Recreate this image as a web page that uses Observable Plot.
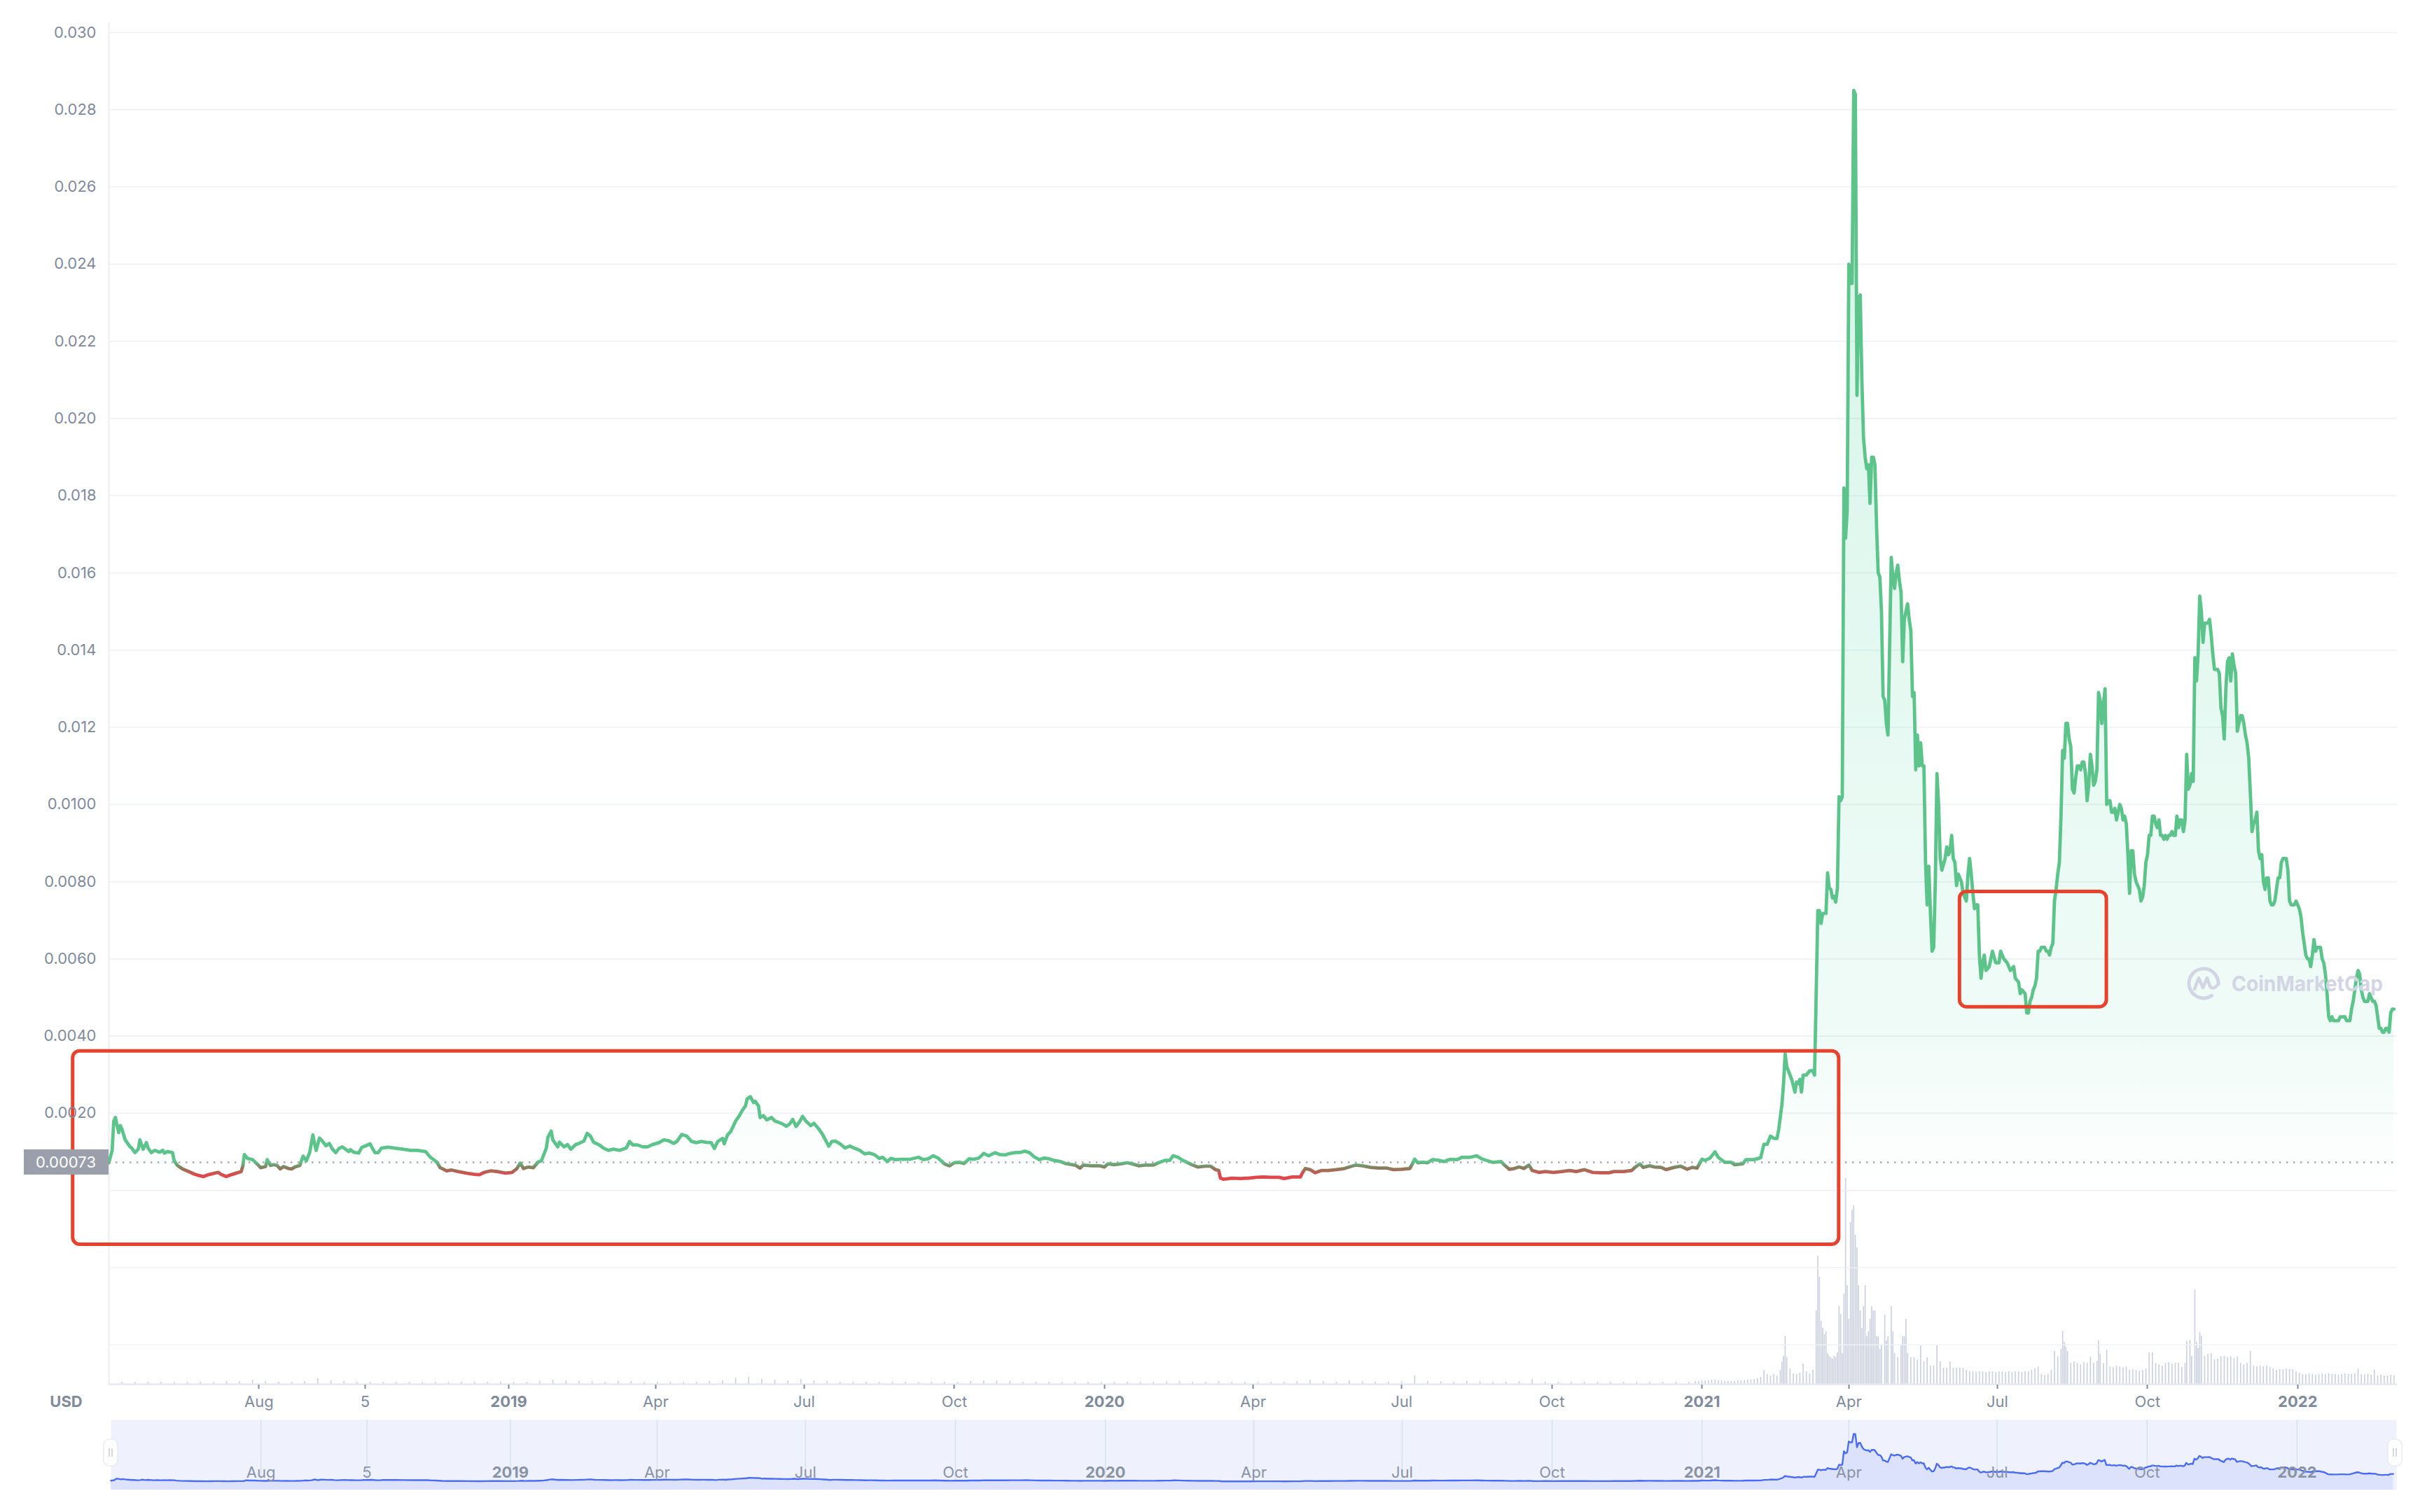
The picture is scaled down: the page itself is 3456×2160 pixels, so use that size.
<!DOCTYPE html>
<html><head><meta charset="utf-8">
<script src="https://cdn.jsdelivr.net/npm/d3@7"></script>
<script src="https://cdn.jsdelivr.net/npm/@observablehq/plot@0.6"></script>
<style>
html,body{margin:0;padding:0;background:#fff;}
body{width:3456px;height:2160px;overflow:hidden;font-family:Inter,"Noto Sans",sans-serif;}
#wrap{position:relative;width:3456px;height:2020px;}
#wrap > svg{position:absolute;left:0;top:0;}
#nav{position:relative;width:3456px;height:140px;}
</style></head><body>
<div id="wrap"></div><div id="nav"></div>
<script>
// ---------------- DATA ----------------
// day offsets from the first day shown (2018-05-01); price in USD
const startDay = "2018-05-01";
const endDay = "2022-03-03";
const refPrice = 0.00073;
const refLabel = "0.00073";

const price2018_19 = [[0,0.00072],[2,0.00104],[3,0.0018],[4,0.00189],[6,0.0015],[7,0.00168],[8,0.00159],[10,0.00131],[13,0.00113],[14,0.0011],[16,0.00098],[18,0.00107],[19,0.00131],[21,0.00107],[23,0.00124],[24,0.0011],[26,0.00098],[28,0.00104],[31,0.00099],[33,0.00104],[34,0.00097],[36,0.00101],[39,0.00098],[40,0.00077],[42,0.00065],[45,0.00056],[49,0.00049],[52,0.00043],[55,0.00039],[58,0.00036],[61,0.00041],[64,0.00044],[67,0.00047],[69,0.00041],[72,0.00036],[75,0.00041],[78,0.00045],[81,0.00049],[82,0.00062],[83,0.00093],[85,0.00083],[88,0.0008],[91,0.00068],[93,0.00059],[96,0.00062],[97,0.0008],[99,0.00065],[101,0.00067],[103,0.00065],[105,0.00056],[107,0.00062],[110,0.00057],[112,0.00056],[114,0.00061],[117,0.00065],[119,0.00089],[121,0.00077],[123,0.00098],[125,0.00144],[126,0.00122],[127,0.00104],[129,0.00136],[131,0.00127],[133,0.00116],[135,0.00122],[137,0.00107],[139,0.00098],[141,0.00109],[143,0.00113],[145,0.00107],[147,0.00101],[148,0.00106],[150,0.00099],[153,0.00097],[155,0.00112],[157,0.00115],[160,0.00121],[161,0.00113],[163,0.00098],[165,0.00098],[167,0.0011],[171,0.00112],[175,0.0011],[180,0.00107],[185,0.00104],[189,0.00104],[194,0.00101],[197,0.00086],[199,0.0008],[201,0.00073],[203,0.00059],[207,0.00051],[210,0.00053],[214,0.00049],[219,0.00045],[224,0.00042],[227,0.00041],[230,0.00047],[234,0.00051],[238,0.00049],[243,0.00045],[247,0.00047],[250,0.00057],[252,0.00071],[254,0.00057],[257,0.00061],[260,0.00059],[263,0.00074],[265,0.00077],[268,0.0011],[269,0.00138],[271,0.00154],[272,0.00131],[275,0.00113],[276,0.00125],[279,0.00113],[281,0.00119],[283,0.00107],[286,0.00119],[288,0.00122],[291,0.00128],[293,0.00148],[295,0.00141],[297,0.00125],[300,0.00119],[303,0.0011],[306,0.00104],[309,0.00107],[313,0.00104],[317,0.0011],[319,0.00127],[321,0.00118],[324,0.00118],[327,0.00113],[330,0.00113],[333,0.00119],[337,0.00124],[340,0.00131],[343,0.00129],[346,0.00122],[348,0.00127],[351,0.00145],[354,0.00141],[357,0.00127],[360,0.00124],[363,0.00127],[366,0.00125],[369,0.00124],[371,0.00109],[373,0.00127],[376,0.00135],[377,0.00121],[379,0.00144],[381,0.00153],[384,0.0018],[386,0.00192],[388,0.00207],[390,0.00219],[391,0.00237],[393,0.00243],[395,0.00228],[396,0.00231],[398,0.00219],[399,0.00189],[401,0.00194],[403,0.00183],[406,0.00189],[408,0.0018],[410,0.00177],[413,0.00172],[415,0.00166],[417,0.00172],[419,0.00184],[421,0.00166],[423,0.00177],[425,0.00192],[427,0.0018],[430,0.00168],[432,0.00174],[435,0.00159],[437,0.00147],[439,0.00131],[441,0.00115],[443,0.00127],[445,0.00128],[448,0.00121],[451,0.0011],[454,0.00115],[457,0.00109],[460,0.00104],[463,0.00095],[466,0.00097],[469,0.00093],[472,0.00083],[474,0.00086],[477,0.00075],[479,0.00083],[482,0.0008],[485,0.00081],[491,0.00081]];

const price2019_20 = [[496,0.00086],[499,0.0008],[502,0.00082],[505,0.0009],[508,0.00084],[512,0.00069],[515,0.00064],[518,0.00072],[521,0.00073],[524,0.0007],[527,0.00082],[530,0.00081],[533,0.00084],[536,0.00096],[539,0.0009],[543,0.00098],[546,0.00093],[549,0.00092],[552,0.00096],[555,0.00098],[559,0.00099],[561,0.00102],[564,0.00098],[567,0.00087],[570,0.0008],[573,0.00084],[576,0.00082],[579,0.00078],[583,0.00075],[586,0.0007],[590,0.00067],[592,0.00066],[595,0.00058],[597,0.00066],[602,0.00064],[607,0.00064],[610,0.00061],[612,0.00069],[616,0.00067],[620,0.00069],[624,0.00072],[627,0.00069],[631,0.00064],[635,0.00066],[640,0.00066],[643,0.00072],[647,0.00078],[650,0.00078],[652,0.0009],[655,0.00086],[658,0.00078],[661,0.00072],[664,0.00066],[667,0.00061],[672,0.00063],[675,0.00063],[678,0.00054],[680,0.00052],[681,0.00032],[683,0.00029],[688,0.00032],[693,0.00031],[698,0.00032],[703,0.00034],[707,0.00035],[712,0.00034],[717,0.00034],[720,0.00031],[725,0.00035],[730,0.00035],[731,0.00044],[733,0.00057],[736,0.00054],[739,0.00046],[743,0.00052],[747,0.00052],[752,0.00054],[757,0.00057],[760,0.00061],[764,0.00066],[768,0.00064],[773,0.0006],[778,0.00058],[783,0.00058],[787,0.00054],[792,0.00055],[797,0.00057],[799,0.00072],[800,0.00081],[802,0.00072],[805,0.00073],[808,0.00072],[811,0.0008],[815,0.00078],[818,0.00075],[822,0.00081],[826,0.0008],[829,0.00086],[834,0.00086],[838,0.0009],[841,0.00082],[844,0.00078],[848,0.00073],[853,0.00075],[855,0.00066],[858,0.00055],[861,0.00057],[864,0.00061],[867,0.00057],[870,0.00066],[872,0.00052],[876,0.00047],[880,0.00049],[885,0.00047],[890,0.00049],[895,0.00052],[899,0.00049],[904,0.00054],[909,0.00047],[914,0.00046],[919,0.00046],[922,0.00049],[928,0.00049],[933,0.00052],[935,0.0006],[938,0.00069],[940,0.0006],[944,0.00064],[947,0.00061],[951,0.0006],[954,0.00054],[959,0.0006],[963,0.00063],[967,0.00055],[970,0.0006],[973,0.00058],[976,0.00081],[978,0.00078],[981,0.00084],[984,0.001],[986,0.00086]];

const price2021a = [[990,0.00073],[994,0.00073],[996,0.00067],[1001,0.00069],[1003,0.0008],[1008,0.0008],[1012,0.00085],[1014,0.0012],[1016,0.0012],[1018,0.00141],[1020,0.00135],[1022,0.00135],[1023,0.00157],[1025,0.00222],[1026,0.00277],[1027,0.00354],[1028,0.0032],[1029,0.0031],[1031,0.00288],[1033,0.00255],[1034,0.00281],[1035,0.00277],[1036,0.00288],[1037,0.00255],[1038,0.00299],[1040,0.00299],[1042,0.0031],[1044,0.0031],[1045,0.00299],[1046,0.00507],[1047,0.00725],[1048,0.00725],[1049,0.00692],[1050,0.00718],[1052,0.00718],[1053,0.00823],[1054,0.00784],[1055,0.0078],[1056,0.00758],[1057,0.00762],[1058,0.00747],[1059,0.00784],[1060,0.0102],[1061,0.0101],[1062,0.0102],[1063,0.0182],[1064,0.0169],[1065,0.0176],[1066,0.024],[1067,0.0235],[1068,0.0235],[1069,0.0285],[1070,0.0284],[1071,0.0206],[1072,0.0231],[1073,0.0232],[1074,0.021],[1075,0.0195],[1076,0.019],[1077,0.0187],[1078,0.0188],[1079,0.0178],[1080,0.019],[1081,0.019],[1082,0.0188],[1083,0.0172],[1084,0.016],[1085,0.0159],[1086,0.015],[1087,0.0128],[1088,0.0127],[1089,0.0121],[1090,0.0118],[1091,0.0141],[1092,0.0164],[1093,0.0159],[1094,0.0156],[1095,0.016],[1096,0.0162],[1097,0.0158],[1098,0.0155],[1099,0.0137],[1100,0.0148],[1101,0.015],[1102,0.0152],[1103,0.0148],[1104,0.0145],[1105,0.0128],[1106,0.0129],[1107,0.0109],[1108,0.0118],[1109,0.011],[1110,0.0116],[1111,0.011],[1112,0.011],[1113,0.0085],[1114,0.0074],[1115,0.0084],[1116,0.0072],[1117,0.0062],[1118,0.0063],[1119,0.008],[1120,0.0108],[1121,0.01],[1122,0.0086],[1123,0.0083],[1125,0.0086],[1126,0.0089],[1127,0.0087],[1128,0.0088],[1129,0.0092],[1130,0.0086],[1131,0.0085],[1132,0.0079],[1133,0.0082],[1135,0.008],[1136,0.0077],[1137,0.0076],[1138,0.0075],[1139,0.0082],[1140,0.0086],[1141,0.0082],[1142,0.0077],[1143,0.0073],[1144,0.0074],[1145,0.0074],[1146,0.0061],[1147,0.0055],[1148,0.0059],[1149,0.0061],[1150,0.0057],[1152,0.0058],[1153,0.006],[1154,0.0062],[1156,0.0059],[1158,0.0059],[1159,0.0062],[1161,0.006],[1163,0.0059],[1165,0.0057],[1167,0.0058],[1168,0.0055],[1170,0.0054],[1171,0.0051],[1172,0.0052],[1174,0.0051],[1175,0.0046],[1176,0.0046],[1177,0.0049]];

const price2021b = [[1178,0.005],[1179,0.0052],[1180,0.0053],[1181,0.0055],[1182,0.0062],[1183,0.0062],[1184,0.0063],[1185,0.0063],[1186,0.0063],[1187,0.0062],[1188,0.0062],[1189,0.0061],[1190,0.0063],[1191,0.0064],[1192,0.0075],[1193,0.0078],[1194,0.0082],[1195,0.0085],[1196,0.0097],[1197,0.0114],[1198,0.0112],[1199,0.0121],[1200,0.0121],[1201,0.0117],[1202,0.0115],[1203,0.0104],[1204,0.0103],[1205,0.0107],[1206,0.011],[1207,0.011],[1208,0.0109],[1209,0.0111],[1210,0.0111],[1211,0.0108],[1212,0.0101],[1213,0.0105],[1214,0.0113],[1215,0.011],[1216,0.0105],[1217,0.0106],[1218,0.0109],[1219,0.0129],[1220,0.0127],[1221,0.0121],[1222,0.0126],[1223,0.0130],[1224,0.01],[1225,0.0101],[1226,0.0101],[1227,0.0098],[1228,0.0098],[1229,0.0099],[1230,0.0096],[1231,0.0098],[1232,0.01],[1233,0.0099],[1234,0.0096],[1235,0.0097],[1236,0.0095],[1237,0.0087],[1238,0.0077],[1239,0.0088],[1240,0.0088],[1241,0.0082],[1242,0.008],[1243,0.0079],[1244,0.0078],[1245,0.0075],[1246,0.0076],[1247,0.0079],[1248,0.0085],[1249,0.0087],[1250,0.0092],[1251,0.0092],[1252,0.0097],[1253,0.0097],[1254,0.0095],[1255,0.0094],[1256,0.0096],[1257,0.0092],[1258,0.0092],[1259,0.0091],[1260,0.0092],[1261,0.0091],[1262,0.0092],[1263,0.0092],[1264,0.0093],[1265,0.0092],[1266,0.0092],[1267,0.0097],[1268,0.0094],[1269,0.0096],[1270,0.0096],[1271,0.0093],[1272,0.0096],[1273,0.0113],[1274,0.0104],[1275,0.0105],[1276,0.0108],[1277,0.0106],[1278,0.0138],[1279,0.0132],[1280,0.0139],[1281,0.0154],[1282,0.015],[1283,0.0142],[1284,0.0147],[1285,0.0147],[1286,0.0147],[1287,0.0148],[1288,0.0144],[1289,0.0139],[1290,0.0135],[1291,0.0135],[1292,0.0135],[1293,0.0134],[1294,0.0125],[1295,0.0123],[1296,0.0117],[1297,0.013],[1298,0.0137],[1299,0.0138],[1300,0.0132],[1301,0.0139],[1302,0.0136],[1303,0.0134],[1304,0.0119],[1305,0.0121],[1306,0.0123],[1307,0.0123],[1308,0.0121],[1309,0.0118],[1310,0.0116],[1311,0.0112],[1312,0.0103],[1313,0.0093],[1314,0.0095],[1315,0.0096],[1316,0.0098],[1317,0.0088],[1318,0.0086],[1319,0.0087],[1320,0.008],[1321,0.0078],[1322,0.0081],[1323,0.0081],[1324,0.0075],[1325,0.0074],[1326,0.0074],[1327,0.0075],[1328,0.0078],[1329,0.0081],[1330,0.0081],[1331,0.0085],[1332,0.0086],[1333,0.0086],[1334,0.0086],[1335,0.0083],[1336,0.0075],[1337,0.0074],[1338,0.0074],[1339,0.0074],[1340,0.0075],[1341,0.0074],[1342,0.0073],[1343,0.0071],[1344,0.0067],[1345,0.0064],[1346,0.0061],[1347,0.006],[1348,0.006],[1349,0.0058],[1350,0.0061],[1351,0.0065],[1352,0.0062],[1353,0.0063],[1354,0.0063],[1355,0.0063],[1356,0.006],[1357,0.0059],[1358,0.0056],[1359,0.0051],[1360,0.0045],[1361,0.0044],[1362,0.0045],[1363,0.0044],[1364,0.0044],[1365,0.0044],[1366,0.0044],[1367,0.0045],[1368,0.0045],[1369,0.0045],[1370,0.0045],[1371,0.0044],[1372,0.0044],[1373,0.0044],[1374,0.0047],[1375,0.0049],[1376,0.0052],[1377,0.0055],[1378,0.0057],[1379,0.0056],[1380,0.0052],[1381,0.005],[1382,0.0049],[1383,0.0049],[1384,0.0049],[1385,0.0051],[1386,0.005],[1387,0.0049],[1388,0.0049],[1389,0.0048],[1390,0.0045],[1391,0.0042],[1392,0.0042],[1393,0.0041],[1394,0.0041],[1395,0.0042],[1396,0.0042],[1397,0.0041],[1398,0.0046],[1399,0.0047],[1400,0.0047]];

// relative 24h volume (bar heights, arbitrary units)
const volumeEarly = [[0,4],[8,3],[16,3],[24,3],[32,3],[40,3],[48,3],[56,3],[64,3],[72,4],[80,4],[88,6],[96,4],[104,3],[112,3],[120,4],[128,8],[136,5],[144,4],[152,3],[160,3],[168,3],[176,3],[184,3],[192,3],[200,3],[208,3],[216,3],[224,3],[232,3],[240,3],[248,3],[256,3],[264,4],[272,6],[280,5],[288,4],[296,4],[304,3],[312,4],[320,4],[328,3],[336,3],[344,3],[352,3],[360,3],[368,4],[376,5],[384,9],[392,10],[400,7],[408,6],[416,5],[424,7],[432,5],[440,4],[448,3],[456,3],[464,3],[472,3],[480,3],[488,3],[496,3],[504,3],[512,3],[520,3],[528,4],[536,5],[544,5],[552,4],[560,3],[568,3],[576,3],[584,3],[592,3],[600,3],[608,3],[616,3],[624,3],[632,3],[640,3],[648,4],[656,4],[664,3],[672,3],[680,4],[688,3],[696,3],[704,3],[712,3],[720,3],[728,4],[736,6],[744,4],[752,3],[760,5],[768,4],[776,3],[784,3],[792,4],[800,12],[808,4],[816,4],[824,3],[832,4],[840,4],[848,3],[856,3],[864,4],[872,7],[880,3],[888,3],[896,3],[904,3],[912,3],[920,3],[928,3],[936,3],[944,3],[952,3],[960,3],[968,3]];

const volumeLate = [[972,4],[974,4],[976,5],[978,5],[980,5],[982,6],[984,6],[986,5],[988,5],[990,4],[992,4],[994,4],[996,4],[998,5],[1000,5],[1002,5],[1004,6],[1006,6],[1008,7],[1010,8],[1012,10],[1014,20],[1016,14],[1018,12],[1020,14],[1022,12],[1024,20],[1025,32],[1026,40],[1027,68],[1028,38],[1030,22],[1032,15],[1034,14],[1036,16],[1038,29],[1040,18],[1042,15],[1044,20],[1046,105],[1047,183],[1048,153],[1049,90],[1050,80],[1051,71],[1052,75],[1053,44],[1054,40],[1055,38],[1056,36],[1057,40],[1058,38],[1059,45],[1060,111],[1061,100],[1062,44],[1063,129],[1064,294],[1065,141],[1066,93],[1067,231],[1068,249],[1069,255],[1070,213],[1071,195],[1072,141],[1073,105],[1074,80],[1075,111],[1076,141],[1077,68],[1078,75],[1079,93],[1080,111],[1081,105],[1082,105],[1083,68],[1084,68],[1085,50],[1086,56],[1088,99],[1089,62],[1090,68],[1092,111],[1093,75],[1094,44],[1096,38],[1098,56],[1099,68],[1100,68],[1101,93],[1102,44],[1104,38],[1106,38],[1108,35],[1110,56],[1112,32],[1114,38],[1116,26],[1118,26],[1120,56],[1122,32],[1124,23],[1126,23],[1128,32],[1130,23],[1132,23],[1134,23],[1136,23],[1138,20],[1140,18],[1142,18],[1144,17],[1146,18],[1148,18],[1150,17],[1152,18],[1154,18],[1156,17],[1158,18],[1160,18],[1162,17],[1164,18],[1166,17],[1168,18],[1170,18],[1172,17],[1174,18],[1176,18],[1178,20],[1180,22],[1182,25],[1184,14],[1186,13],[1188,14],[1190,20],[1192,47],[1194,39],[1196,50],[1197,76],[1198,60],[1199,53],[1200,47],[1202,30],[1204,32],[1206,30],[1208,28],[1210,31],[1212,30],[1214,39],[1216,30],[1218,33],[1219,62],[1220,43],[1222,30],[1224,49],[1226,25],[1228,24],[1230,26],[1232,25],[1234,24],[1236,25],[1238,20],[1240,21],[1242,20],[1244,19],[1246,20],[1248,22],[1250,45],[1252,45],[1254,30],[1256,28],[1258,26],[1260,30],[1262,31],[1264,29],[1266,30],[1268,30],[1270,24],[1272,30],[1273,61],[1275,63],[1276,40],[1278,135],[1279,60],[1280,51],[1281,74],[1282,69],[1284,40],[1286,43],[1288,44],[1290,35],[1292,36],[1294,39],[1296,40],[1298,38],[1300,39],[1302,37],[1304,39],[1306,30],[1308,28],[1310,30],[1312,47],[1314,26],[1316,25],[1318,26],[1320,25],[1322,26],[1324,24],[1326,22],[1328,20],[1330,21],[1332,21],[1334,22],[1336,21],[1338,21],[1340,18],[1342,16],[1344,14],[1346,14],[1348,15],[1350,14],[1352,13],[1354,14],[1356,15],[1358,14],[1360,15],[1362,14],[1364,14],[1366,13],[1368,14],[1370,15],[1372,14],[1374,14],[1376,15],[1378,22],[1380,14],[1382,13],[1384,14],[1386,13],[1388,20],[1390,12],[1392,13],[1394,12],[1396,12],[1398,13],[1400,12]];

// axes
const yGridValues = [0.030,0.028,0.026,0.024,0.022,0.020,0.018,0.016,0.014,0.012,0.010,0.008,0.006,0.004,0.002,0,-0.002,-0.004];
const yLabelValues = [0.030,0.028,0.026,0.024,0.022,0.020,0.018,0.016,0.014,0.012,0.010,0.008,0.006,0.004,0.002];
const yLabelTexts = ["0.030","0.028","0.026","0.024","0.022","0.020","0.018","0.016","0.014","0.012","0.0100","0.0080","0.0060","0.0040","0.0020"];
const xTickDates = ["2018-08-01","2018-10-05","2019-01-01","2019-04-01","2019-07-01","2019-10-01","2020-01-01","2020-04-01","2020-07-01","2020-10-01","2021-01-01","2021-04-01","2021-07-01","2021-10-01","2022-01-01"];
const xTickLabels = ["Aug","5","2019","Apr","Jul","Oct","2020","Apr","Jul","Oct","2021","Apr","Jul","Oct","2022"];

// red annotation boxes (start day, end day, top price, bottom price)
const boxStartDay = [-22, 1134];
const boxEndDay = [1060, 1224];
const boxTop = [0.00361, 0.00774];
const boxBottom = [-0.0014, 0.00475];

// ---------------- BUILD ----------------
const t0 = new Date(startDay + "T00:00:00Z");
const dayToDate = d => new Date(t0.getTime() + d * 864e5);
const price = [...price2018_19, ...price2019_20, ...price2021a, ...price2021b].map(([d, v]) => ({date: dayToDate(d), value: v}));
const volume = [...volumeEarly, ...volumeLate].map(([d, v]) => ({date: dayToDate(d), value: v}));
const ticks = xTickDates.map((s, i) => ({date: new Date(s + "T00:00:00Z"), label: xTickLabels[i], year: /^\d{4}$/.test(xTickLabels[i])}));
const yLabels = yLabelValues.map((v, i) => ({value: v, text: yLabelTexts[i]}));
const boxes = boxStartDay.map((s, i) => ({x1: dayToDate(s), x2: dayToDate(boxEndDay[i]), y1: boxTop[i], y2: boxBottom[i]}));

const xDomain = [t0, new Date(endDay + "T00:00:00Z")];
const yDomain = [-0.00502, 0.030254];
const W = 3456, H = 2020;
const M = {left: 155, right: 33, top: 32, bottom: 43};
const AXIS = "#808A9D";
const FONT = "Inter, 'Noto Sans', sans-serif";
const NS = "http://www.w3.org/2000/svg";
function el(tag, attrs, text) {
  const e = document.createElementNS(NS, tag);
  for (const k in attrs) e.setAttribute(k, attrs[k]);
  if (text != null) e.textContent = text;
  return e;
}

// gradients defined in user space from the y scale
const defsMark = (index, scales) => {
  const y = scales.y;
  const defs = el("defs", {});
  const lg = el("linearGradient", {id: "lineGrad", gradientUnits: "userSpaceOnUse", x1: 0, x2: 0, y1: y(refPrice + 0.00002), y2: y(0.00040)});
  lg.append(el("stop", {offset: "0", "stop-color": "#5CC48A"}));
  lg.append(el("stop", {offset: "0.45", "stop-color": "#85805F"}));
  lg.append(el("stop", {offset: "1", "stop-color": "#E1474B"}));
  const ag = el("linearGradient", {id: "areaGrad", gradientUnits: "userSpaceOnUse", x1: 0, x2: 0, y1: y(0.0285), y2: y(0)});
  const f = (v) => String((y(v) - y(0.0285)) / (y(0) - y(0.0285)));
  ag.append(el("stop", {offset: "0", "stop-color": "#16C784", "stop-opacity": 0.19}));
  ag.append(el("stop", {offset: f(0.004), "stop-color": "#16C784", "stop-opacity": 0.065}));
  ag.append(el("stop", {offset: "1", "stop-color": "#16C784", "stop-opacity": 0.0}));
  defs.append(lg, ag);
  return defs;
};

const tickMarks = (index, scales, values, dims) => {
  const g = el("g", {stroke: "#7D8597", "stroke-width": 2});
  const yb = dims.height - dims.marginBottom;
  for (const t of ticks) {
    const x = Math.round(scales.x(t.date)) + 0.5;
    g.append(el("line", {x1: x, x2: x, y1: yb + 1, y2: yb + 7}));
  }
  return g;
};

const priceTag = (index, scales, values, dims) => {
  const yc = scales.y(refPrice);
  const g = el("g", {});
  g.append(el("rect", {x: 34, y: yc - 18, width: dims.marginLeft - 34, height: 36, fill: "#9A9FAB"}));
  g.append(el("text", {x: 94, y: yc, dy: "0.35em", "text-anchor": "middle", fill: "#fff", "font-size": 22, "font-family": FONT}, refLabel));
  return g;
};

const watermark = () => {
  const g = el("g", {});
  const cx = 3147, cy = 1405, r = 21;
  const c = "#D3D5E4";
  g.append(el("path", {d: `M ${cx + r * 0.55} ${cy + r * 0.83} A ${r} ${r} 0 1 1 ${cx + r} ${cy + 1}`, fill: "none", stroke: c, "stroke-width": 5, "stroke-linecap": "round"}));
  g.append(el("path", {d: `M ${cx - 13} ${cy + 8} L ${cx - 7} ${cy - 8} L ${cx - 1} ${cy + 6} L ${cx + 5} ${cy - 8} L ${cx + 9} ${cy + 4} Q ${cx + 13} ${cy + 9} ${cx + 18} ${cy + 4}`, fill: "none", stroke: c, "stroke-width": 4.5, "stroke-linejoin": "round", "stroke-linecap": "round"}));
  g.append(el("text", {x: 3187, y: 1416, fill: c, "text-anchor": "start", "font-size": 30, "font-weight": 700, "font-family": FONT, textLength: 216, lengthAdjust: "spacingAndGlyphs"}, "CoinMarketCap"));
  return g;
};

const volPlot = Plot.plot({
  width: W, height: H,
  marginLeft: M.left, marginRight: M.right, marginTop: H - M.bottom - 300, marginBottom: M.bottom,
  x: {type: "utc", domain: xDomain, axis: null},
  y: {domain: [0, 300], axis: null},
  style: {background: "transparent"},
  marks: [
    Plot.ruleX(volume, {x: "date", y1: 0, y2: "value", stroke: "#C9CFDD", strokeWidth: 1.6})
  ]
});

const mainPlot = Plot.plot({
  width: W, height: H,
  marginLeft: M.left, marginRight: M.right, marginTop: M.top, marginBottom: M.bottom,
  x: {type: "utc", domain: xDomain, axis: null},
  y: {domain: yDomain, axis: null},
  style: {background: "transparent", fontFamily: FONT, overflow: "visible"},
  marks: [
    defsMark,
    Plot.ruleY(yGridValues, {stroke: "#EEF1F5", strokeWidth: 1.6}),
    Plot.ruleX([xDomain[0]], {stroke: "#EEF1F5", strokeWidth: 2.5}),
    Plot.ruleY([yDomain[0]], {stroke: "#E5E8EF", strokeWidth: 2.5}),
    Plot.areaY(price, {x: "date", y1: 0, y2: "value", fill: "url(#areaGrad)"}),
    Plot.ruleY([refPrice], {stroke: "#A3A8B6", strokeWidth: 2.4, strokeDasharray: "2.4,7.6"}),
    Plot.lineY(price, {x: "date", y: "value", stroke: "url(#lineGrad)", strokeWidth: 4.8, strokeLinejoin: "round"}),
    Plot.rect(boxes, {x1: "x1", x2: "x2", y1: "y1", y2: "y2", fill: "none", stroke: "#E8412C", strokeWidth: 5, rx: 10}),
    Plot.text(yLabels, {y: "value", text: "text", frameAnchor: "left", dx: -18, textAnchor: "end", fill: AXIS, fontSize: 22}),
    Plot.text(ticks.filter(t => !t.year), {x: "date", text: "label", frameAnchor: "bottom", dy: 32, fill: AXIS, fontSize: 22}),
    Plot.text(ticks.filter(t => t.year), {x: "date", text: "label", frameAnchor: "bottom", dy: 32, fill: AXIS, fontSize: 22, fontWeight: 700}),
    Plot.text(["USD"], {frameAnchor: "bottom-left", textAnchor: "middle", dx: -61, dy: 32, fill: AXIS, fontSize: 22, fontWeight: 700}),
    tickMarks,
    priceTag,
    watermark
  ]
});

document.getElementById("wrap").append(volPlot, mainPlot);

// ---------------- NAVIGATOR ----------------
const navY = [-0.0048, 0.0368];
const handles = (index, scales, values, dims) => {
  const g = el("g", {});
  const yTop = dims.marginTop + 28, h = 38;
  for (const cx of [dims.marginLeft, dims.width - dims.marginRight - 2]) {
    g.append(el("rect", {x: cx - 10, y: yTop, width: 20, height: h, rx: 8, fill: "#fff", stroke: "#E3E6EE", "stroke-width": 1.2}));
    g.append(el("line", {x1: cx - 2, x2: cx - 2, y1: yTop + 13, y2: yTop + 25, stroke: "#B8BDC9", "stroke-width": 1.2}));
    g.append(el("line", {x1: cx + 2, x2: cx + 2, y1: yTop + 13, y2: yTop + 25, stroke: "#B8BDC9", "stroke-width": 1.2}));
  }
  return g;
};
const navPlot = Plot.plot({
  width: W, height: 140,
  marginLeft: 158, marginRight: 34, marginTop: 8, marginBottom: 32,
  x: {type: "utc", domain: xDomain, axis: null},
  y: {domain: navY, axis: null},
  style: {background: "transparent", fontFamily: FONT, overflow: "visible"},
  marks: [
    Plot.frame({fill: "#EFF2FD", stroke: "none"}),
    Plot.ruleX(ticks, {x: "date", stroke: "#DADFEE", strokeWidth: 1.5}),
    Plot.areaY(price, {x: "date", y1: navY[0], y2: "value", fill: "#DCE2FB"}),
    Plot.lineY(price, {x: "date", y: "value", stroke: "#4A6CF5", strokeWidth: 2.4}),
    Plot.text(ticks.filter(t => !t.year), {x: "date", text: "label", frameAnchor: "bottom", dy: -18, fill: "#8A92A6", fontSize: 22}),
    Plot.text(ticks.filter(t => t.year), {x: "date", text: "label", frameAnchor: "bottom", dy: -18, fill: "#8A92A6", fontSize: 22, fontWeight: 700}),
    handles
  ]
});
document.getElementById("nav").append(navPlot);
</script></body></html>
